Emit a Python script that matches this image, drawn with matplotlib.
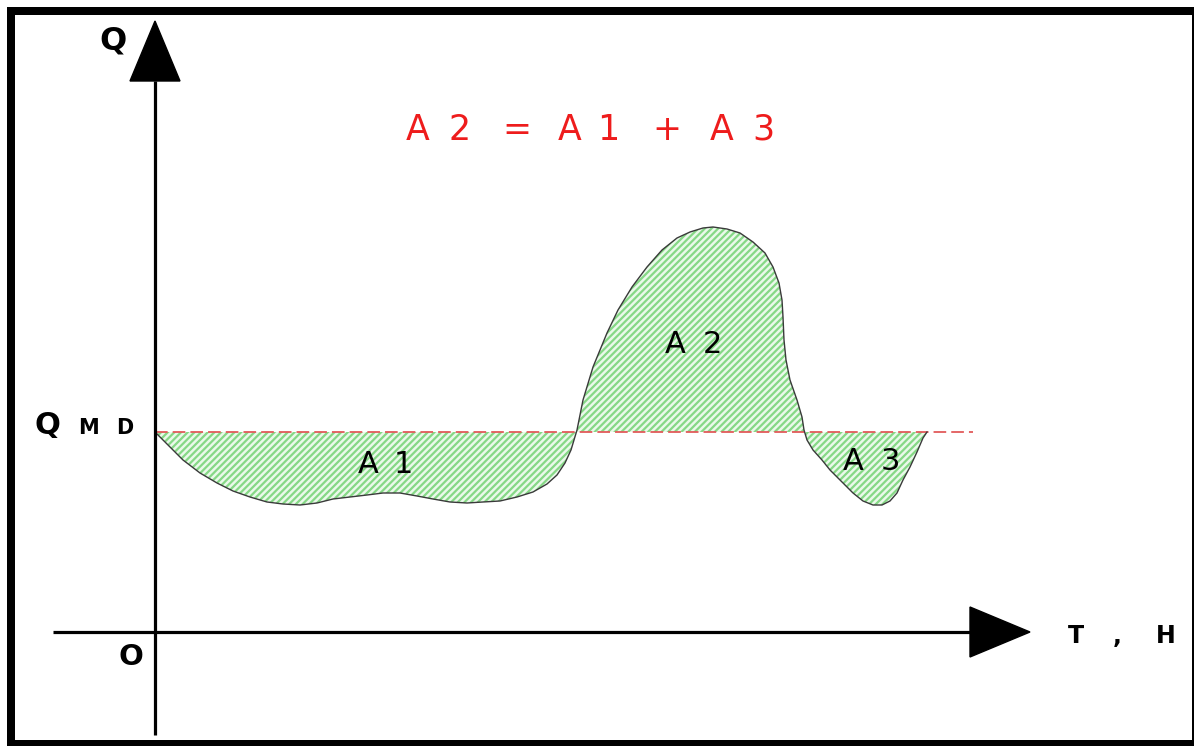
import matplotlib
matplotlib.use("Agg")
import matplotlib.pyplot as plt
from matplotlib.patches import Rectangle, Polygon

plt.rcParams['font.family'] = ['DejaVu Sans']
plt.rcParams['hatch.linewidth'] = 1.6

# ---- data (T in hours, Q in flow units) ----
QMD = 5.0
T_curve = [0.0, 0.375, 0.7, 1.125, 1.55, 1.95, 2.375, 2.8, 3.2, 3.625, 4.05, 4.45, 4.875,
           5.3, 5.7, 6.125, 6.55, 6.95, 7.375, 7.8, 8.2, 8.625, 9.05, 9.45, 9.8, 10.05,
           10.25, 10.4,
           10.55, 10.7, 10.95, 11.3, 11.575, 11.925, 12.3, 12.675, 13.05, 13.375, 13.7,
           13.95, 14.3, 14.625, 14.95, 15.25, 15.45, 15.6, 15.675, 15.7, 15.725, 15.775,
           15.875, 16.05, 16.175, 16.225,
           16.3, 16.45, 16.675, 16.875, 17.175, 17.45, 17.7, 17.95, 18.175, 18.375, 18.55,
           18.7, 18.875, 19.05, 19.2, 19.3]
Q_curve = [5.0, 4.625, 4.3, 3.975, 3.725, 3.525, 3.375, 3.25, 3.2, 3.175, 3.225, 3.325, 3.375,
           3.425, 3.475, 3.475, 3.4, 3.325, 3.25, 3.225, 3.25, 3.275, 3.375, 3.5, 3.7, 3.925,
           4.225, 4.55,
           5.05, 5.8, 6.625, 7.475, 8.05, 8.625, 9.125, 9.55, 9.85, 10.0, 10.1,
           10.125, 10.075, 9.975, 9.75, 9.475, 9.125, 8.725, 8.3, 7.875, 7.3, 6.8,
           6.3, 5.8, 5.375, 5.05,
           4.8, 4.55, 4.3, 4.05, 3.75, 3.475, 3.275, 3.175, 3.175, 3.275, 3.475,
           3.8, 4.125, 4.5, 4.85, 5.0]
QMD_line_end = 20.45

# axis extents (data units)
T_axis_min, T_axis_base, T_axis_tip = -2.55, 20.375, 21.875
Q_axis_min, Q_axis_base, Q_axis_tip = -2.575, 13.775, 15.275
arrow_half = 0.625

W, H = 1194, 746
fig = plt.figure(figsize=(W / 100, H / 100), dpi=100)
ax = fig.add_axes([0, 0, 1, 1])
ax.set_xlim(-155 / 40, (W - 155) / 40)
ax.set_ylim((632 - H) / 40, 632 / 40)
ax.axis('off')

# hatched area
ax.fill_between(T_curve, Q_curve, QMD, facecolor='#eaf9ea', edgecolor='#86d886',
                hatch='/////', linewidth=0, zorder=1)
ax.plot(T_curve, Q_curve, color='#3a3a3a', lw=1.0, zorder=3)

# QMD dashed line
ax.plot([0, QMD_line_end], [QMD, QMD], color='#e25a5a', lw=1.3,
        dashes=(7, 2.8), zorder=2)

# axes with arrows
axis_lw = 2.3
ax.plot([0, 0], [Q_axis_min, Q_axis_base], color='black', lw=axis_lw, zorder=4,
        solid_capstyle='butt')
ax.add_patch(Polygon([[-arrow_half, Q_axis_base], [arrow_half, Q_axis_base], [0, Q_axis_tip]],
                     closed=True, color='black', zorder=4))
ax.plot([T_axis_min, T_axis_base], [0, 0], color='black', lw=axis_lw, zorder=4,
        solid_capstyle='butt')
ax.add_patch(Polygon([[T_axis_base, -arrow_half], [T_axis_base, arrow_half], [T_axis_tip, 0]],
                     closed=True, color='black', zorder=4))

# ---- text helpers (pixel positions -> figure fraction) ----
def ptext(x, y, s, size, color='black', weight='normal'):
    fig.text(x / W, 1 - y / H, s, fontsize=size, color=color, fontweight=weight,
             ha='center', va='baseline')

# formula
for ch, x in [('A', 418), ('2', 460), ('=', 517), ('A', 570), ('1', 608),
              ('+', 667), ('A', 722), ('3', 763)]:
    ptext(x, 140, ch, 25, color='#ee1c1c')

# area labels
for ch, x in [('A', 368), ('1', 403)]:
    ptext(x, 473, ch, 22)
for ch, x in [('A', 675), ('2', 712)]:
    ptext(x, 353, ch, 22)
for ch, x in [('A', 853), ('3', 890)]:
    ptext(x, 470, ch, 22)

# axis labels
ptext(113, 50, 'Q', 23, weight='bold')
ptext(47, 434, 'Q', 22, weight='bold')
ptext(88, 434, 'M', 15, weight='bold')
ptext(125, 434, 'D', 15, weight='bold')
ptext(131, 665, 'O', 21, weight='bold')
ptext(1076, 643, 'T', 17, weight='bold')
ptext(1117, 643, ',', 17, weight='bold')
ptext(1166, 643, 'H', 17, weight='bold')

# frame
def prect(x0, y0, x1, y1):
    fig.add_artist(Rectangle((x0 / W, 1 - y1 / H), (x1 - x0) / W, (y1 - y0) / H,
                             transform=fig.transFigure, color='black', lw=0))
prect(7, 7, 15, 746)
prect(7, 7, 1194, 15)
prect(1192, 7, 1194, 746)
prect(7, 740, 1194, 746)

fig.savefig('out.png', dpi=100)
